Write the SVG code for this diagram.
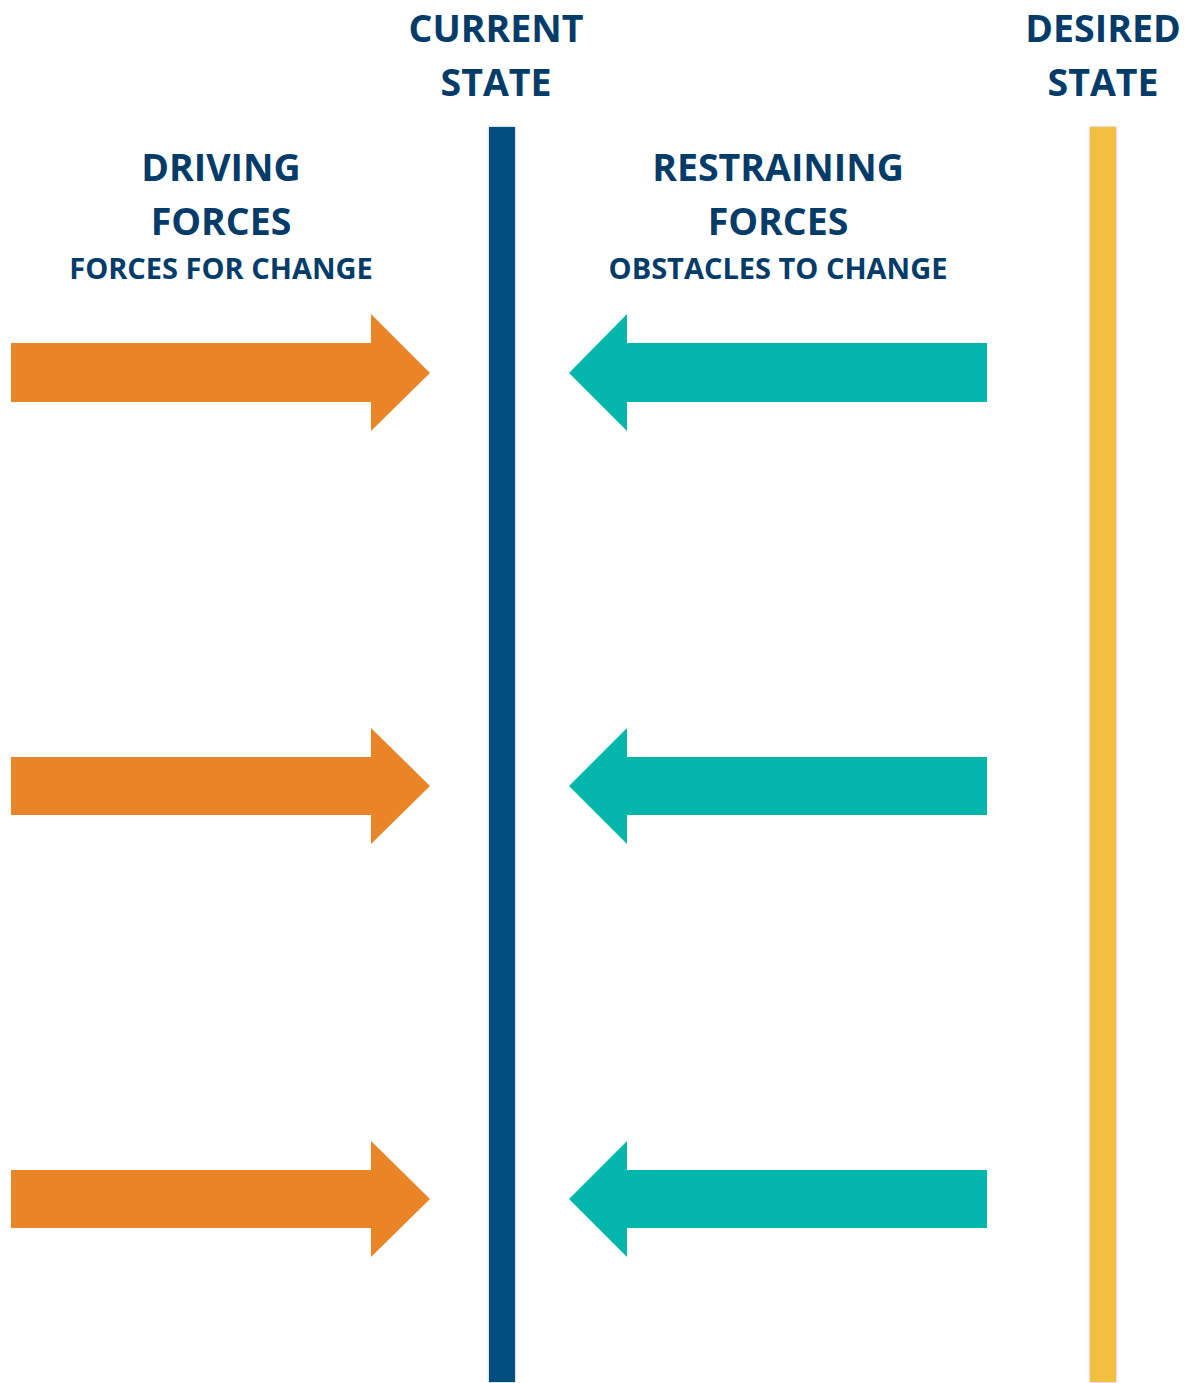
<svg xmlns="http://www.w3.org/2000/svg" width="1187" height="1383" viewBox="0 0 1187 1383">
<style>
.t{font-family:"Open Sans","Noto Sans","Liberation Sans",sans-serif;font-weight:700;fill:#033b69;text-anchor:middle}
.big{font-size:37.5px}
.small{font-size:29px}
.drive{fill:#e98427}
.restrain{fill:#03b6ac}
</style>
<defs>
<filter id="sh" x="-50%" y="-1%" width="200%" height="102%"><feDropShadow dx="0" dy="0" stdDeviation="1.5" flood-color="#000" flood-opacity="0.3"/></filter>
</defs>
<rect width="1187" height="1383" fill="#fff"/>
<g id="current-state">
<rect x="489" y="127" width="26" height="1255" fill="#004e80" filter="url(#sh)"/>
<text class="t big" x="496" y="42">CURRENT</text>
<text class="t big" x="496" y="96">STATE</text>
</g>
<g id="desired-state">
<rect x="1090" y="127" width="26" height="1255" fill="#f2bf40" filter="url(#sh)"/>
<text class="t big" x="1103" y="42">DESIRED</text>
<text class="t big" x="1103" y="96">STATE</text>
</g>
<g id="driving-forces">
<text class="t big" x="221" y="181">DRIVING</text>
<text class="t big" x="221" y="235">FORCES</text>
<text class="t small" x="221" y="279">FORCES FOR CHANGE</text>
</g>
<g id="restraining-forces">
<text class="t big" x="778" y="181">RESTRAINING</text>
<text class="t big" x="778" y="235">FORCES</text>
<text class="t small" x="778" y="279">OBSTACLES TO CHANGE</text>
</g>
<g id="connectors">
<polygon class="drive" points="11,343 371,343 371,314 430,373 371,431 371,402 11,402"/>
<polygon class="drive" points="11,757 371,757 371,728 430,786 371,844 371,815 11,815"/>
<polygon class="drive" points="11,1170 371,1170 371,1141 430,1199 371,1257 371,1228 11,1228"/>
<polygon class="restrain" points="987,343 627,343 627,314 569,373 627,431 627,402 987,402"/>
<polygon class="restrain" points="987,757 627,757 627,728 569,786 627,844 627,815 987,815"/>
<polygon class="restrain" points="987,1170 627,1170 627,1141 569,1199 627,1257 627,1228 987,1228"/>
</g>
</svg>
